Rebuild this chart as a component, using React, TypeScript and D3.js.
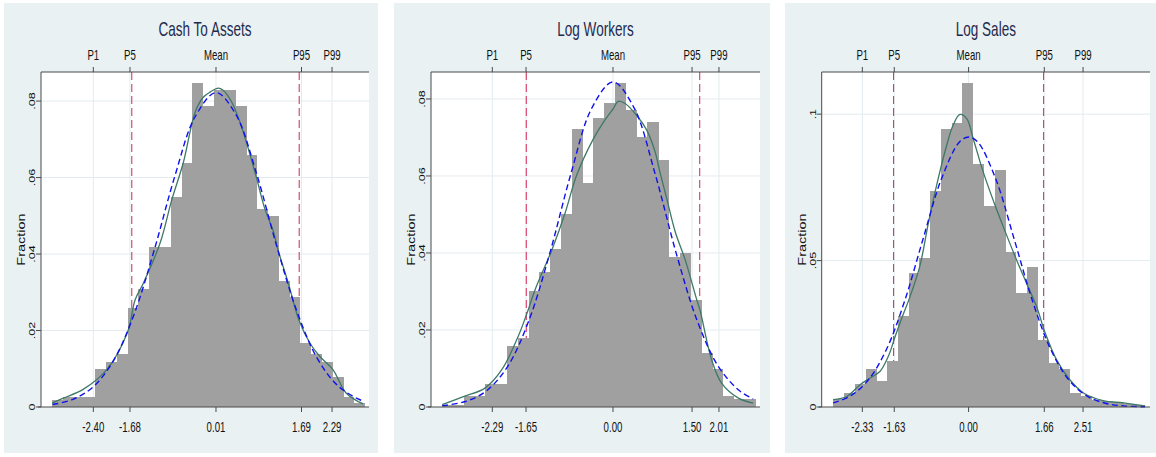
import React from 'react';
import * as d3 from 'd3';

// ---------------- data ----------------
const titles = ['Cash To Assets', 'Log Workers', 'Log Sales'];
const percentileNames = ['P1', 'P5', 'Mean', 'P95', 'P99'];

const cashPercentiles = [-2.4, -1.68, 0.01, 1.69, 2.29];
const workersPercentiles = [-2.29, -1.65, 0.0, 1.5, 2.01];
const salesPercentiles = [-2.33, -1.63, 0.0, 1.66, 2.51];

const normalCutoffs = [-1.645, 1.645];

const cashRange = [-3.428, 3.016];
const workersRange = [-3.453, 2.789];
const salesRange = [-3.221, 3.978];

const cashFractionMax = 0.0876;
const workersFractionMax = 0.087;
const salesFractionMax = 0.1144;

const fractionTicks = [0, 0.02, 0.04, 0.06, 0.08];
const fractionLabels = ['0', '.02', '.04', '.06', '.08'];
const salesFractionTicks = [0, 0.05, 0.1];
const salesFractionLabels = ['0', '.05', '.1'];

const cashBinStart = -3.206;
const cashBinWidth = 0.2116;
const workersBinStart = -3.239;
const workersBinWidth = 0.2049;
const salesBinStart = -2.967;
const salesBinWidth = 0.2357;

const cashBars = [
  0.0018, 0.0027, 0.0027, 0.0027, 0.0099, 0.0118, 0.0139, 0.0258, 0.0308, 0.0418,
  0.0418, 0.0548, 0.0639, 0.0848, 0.0787, 0.0829, 0.0829, 0.0787, 0.0659, 0.0518,
  0.0499, 0.0329, 0.0288, 0.0168, 0.0139, 0.0118, 0.0078, 0.0027, 0.001,
];
const workersBars = [
  0.0006, 0.0006, 0.0029, 0.0029, 0.0059, 0.0059, 0.0159, 0.0178, 0.03, 0.035,
  0.0411, 0.05, 0.0721, 0.0581, 0.0751, 0.079, 0.0842, 0.0771, 0.0702, 0.0741,
  0.0642, 0.0389, 0.04, 0.0278, 0.0139, 0.0098, 0.0028, 0.002, 0.002,
];
const salesBars = [
  0.0027, 0.0048, 0.0078, 0.013, 0.009, 0.0158, 0.0312, 0.0459, 0.0508, 0.0739,
  0.0949, 0.0969, 0.1108, 0.0829, 0.0688, 0.0808, 0.0529, 0.0389, 0.0478, 0.023,
  0.015, 0.013, 0.0048, 0.0036, 0.0025, 0.0022, 0.0018, 0.001, 0.0007,
];

const cashKernel: [number, number][] = [
  [-3.21, 0.001], [-2.99, 0.0023], [-2.6, 0.0046], [-2.14, 0.0097], [-1.725, 0.0197],
  [-1.58, 0.028], [-1.42, 0.0323], [-1.09, 0.0428], [-0.86, 0.0541], [-0.63, 0.064],
  [-0.4, 0.0771], [-0.24, 0.081], [-0.1, 0.0824], [0.055, 0.0834], [0.15, 0.0828],
  [0.32, 0.0797], [0.48, 0.0745], [0.645, 0.0675], [0.81, 0.0597], [0.97, 0.0518],
  [1.14, 0.0458], [1.23, 0.041], [1.43, 0.0324], [1.64, 0.0227], [1.86, 0.0166],
  [2.05, 0.0132], [2.31, 0.0097], [2.57, 0.0036], [2.9, 0.0008],
];
const cashNormal: [number, number][] = [
  [-3.2, 0.00064], [-2.8, 0.002], [-2.4, 0.0053], [-2.0, 0.0122], [-1.6, 0.0242],
  [-1.2, 0.0412], [-0.8, 0.0603], [-0.4, 0.0759], [0.01, 0.0822], [0.4, 0.0765],
  [0.8, 0.0613], [1.2, 0.0422], [1.6, 0.025], [2.0, 0.0127], [2.4, 0.0056],
  [2.8, 0.0021], [2.9, 0.0016],
];

const workersKernel: [number, number][] = [
  [-3.24, 0.0006], [-2.81, 0.0028], [-2.43, 0.0049], [-2.11, 0.0097], [-1.8, 0.0183],
  [-1.61, 0.0252], [-1.48, 0.0304], [-1.16, 0.0408], [-0.91, 0.0503], [-0.69, 0.0602],
  [-0.37, 0.0697], [-0.18, 0.074], [0.006, 0.0775], [0.1, 0.0794], [0.23, 0.0788],
  [0.45, 0.0757], [0.64, 0.0719], [0.8, 0.0662], [0.89, 0.061], [1.02, 0.0541],
  [1.18, 0.0455], [1.37, 0.0382], [1.59, 0.0278], [1.65, 0.0252], [1.87, 0.0123],
  [2.06, 0.0062], [2.38, 0.0023], [2.66, 0.001],
];
const workersNormal: [number, number][] = [
  [-3.24, 0.00036], [-2.8, 0.00142], [-2.4, 0.0042], [-2.0, 0.0105], [-1.6, 0.0223],
  [-1.2, 0.0399], [-0.8, 0.0605], [-0.4, 0.0777], [0.0, 0.0844], [0.4, 0.0777],
  [0.8, 0.0605], [1.2, 0.0399], [1.6, 0.0223], [2.0, 0.0105], [2.4, 0.0042],
  [2.66, 0.0021],
];

const salesKernel: [number, number][] = [
  [-2.97, 0.0025], [-2.67, 0.0036], [-2.38, 0.0076], [-2.16, 0.0099], [-1.94, 0.0122],
  [-1.76, 0.0173], [-1.61, 0.0241], [-1.45, 0.031], [-1.3, 0.037], [-1.07, 0.048],
  [-0.88, 0.063], [-0.7, 0.0758], [-0.48, 0.0894], [-0.34, 0.0962], [-0.19, 0.0999],
  [-0.04, 0.0985], [0.1, 0.0917], [0.32, 0.0803], [0.58, 0.0689], [0.76, 0.0616],
  [1.05, 0.0503], [1.27, 0.0423], [1.49, 0.0343], [1.68, 0.0253], [1.93, 0.0161],
  [2.22, 0.0093], [2.52, 0.0048], [2.95, 0.0022], [3.39, 0.0014], [3.87, 0.0004],
];
const salesNormal: [number, number][] = [
  [-2.97, 0.00139], [-2.6, 0.0037], [-2.2, 0.0092], [-1.8, 0.0197], [-1.4, 0.0363],
  [-1.0, 0.0573], [-0.6, 0.0777], [-0.2, 0.0905], [0.0, 0.0922], [0.2, 0.0905],
  [0.6, 0.0777], [1.0, 0.0573], [1.4, 0.0363], [1.8, 0.0197], [2.2, 0.0092],
  [2.6, 0.0037], [3.0, 0.00127], [3.4, 0.00038], [3.87, 0.00007],
];

// ---------------- layout ----------------
const frames = [
  { bg: [4, 3, 378, 453], plot: [41, 72, 369, 407] },
  { bg: [394, 3, 770, 453], plot: [431, 72, 760, 407] },
  { bg: [785, 3, 1156, 453], plot: [821.7, 72, 1150, 407] },
];

const panels = [
  {
    title: titles[0], ticks: cashPercentiles, range: cashRange, yMax: cashFractionMax,
    yTicks: fractionTicks, yLabels: fractionLabels, binStart: cashBinStart, binWidth: cashBinWidth,
    bars: cashBars, kernel: cashKernel, normal: cashNormal,
  },
  {
    title: titles[1], ticks: workersPercentiles, range: workersRange, yMax: workersFractionMax,
    yTicks: fractionTicks, yLabels: fractionLabels, binStart: workersBinStart, binWidth: workersBinWidth,
    bars: workersBars, kernel: workersKernel, normal: workersNormal,
  },
  {
    title: titles[2], ticks: salesPercentiles, range: salesRange, yMax: salesFractionMax,
    yTicks: salesFractionTicks, yLabels: salesFractionLabels, binStart: salesBinStart, binWidth: salesBinWidth,
    bars: salesBars, kernel: salesKernel, normal: salesNormal,
  },
];

const FONT = '"Liberation Sans", Arial, Helvetica, sans-serif';
const BG = '#eaf1f3';
const GRID = '#e3ebef';
const AXIS = '#4a4a4a';
const BAR = '#a0a0a0';
const RED = '#d23c64';
const BLUE = '#1010ee';
const GREEN = '#3d7868';
const SX = 0.69;

function Panel({ p, f }: { p: any; f: any }) {
  const [bx0, by0, bx1, by1] = f.bg;
  const [pl, pt, pr, pb] = f.plot;
  const x = d3.scaleLinear().domain(p.range).range([pl, pr]);
  const y = d3.scaleLinear().domain([0, p.yMax]).range([pb, pt]);
  const line = d3
    .line<[number, number]>()
    .x((d) => x(d[0]))
    .y((d) => y(d[1]))
    .curve(d3.curveCatmullRom.alpha(0.5));
  const cx = (pl + pr) / 2;
  const cy = (pt + pb) / 2;
  return (
    <g>
      <rect x={bx0} y={by0} width={bx1 - bx0} height={by1 - by0} fill={BG} />
      <rect x={pl} y={pt} width={pr - pl} height={pb - pt} fill="#ffffff" />
      {/* grid */}
      {p.yTicks.filter((v: number) => v > 0).map((v: number, i: number) => (
        <line key={'gy' + i} x1={pl} x2={pr} y1={y(v)} y2={y(v)} stroke={GRID} strokeWidth={1} />
      ))}
      {p.ticks.map((v: number, i: number) => (
        <line key={'gx' + i} x1={x(v)} x2={x(v)} y1={pt} y2={pb} stroke={GRID} strokeWidth={1} />
      ))}
      {/* reference lines */}
      {normalCutoffs.map((v, i) => (
        <line key={'r' + i} x1={x(v)} x2={x(v)} y1={pt} y2={pb} stroke={RED} strokeWidth={1.1} strokeDasharray="8,4" />
      ))}
      {/* bars */}
      {p.bars.map((v: number, i: number) => {
        const x0 = p.binStart + i * p.binWidth;
        const X0 = x(x0);
        const X1 = x(x0 + p.binWidth);
        return (
          <rect key={'b' + i} x={X0} y={y(v)} width={X1 - X0 + 0.4} height={y(0) - y(v)} fill={BAR} shapeRendering="crispEdges" />
        );
      })}
      {/* curves */}
      <path d={line(p.kernel) || ''} fill="none" stroke={GREEN} strokeWidth={1.3} />
      <path d={line(p.normal) || ''} fill="none" stroke={BLUE} strokeWidth={1.4} strokeDasharray="6,3.5" />
      {/* axes */}
      <line x1={pl} x2={pl} y1={pt} y2={pb} stroke={AXIS} strokeWidth={1} />
      <line x1={pl} x2={pr} y1={pt} y2={pt} stroke={AXIS} strokeWidth={1.1} />
      <line x1={pl - 3} x2={pr} y1={pb} y2={pb} stroke={AXIS} strokeWidth={1.1} />
      {p.ticks.map((v: number, i: number) => (
        <g key={'t' + i}>
          <line x1={x(v)} x2={x(v)} y1={pb} y2={pb + 5} stroke={AXIS} strokeWidth={1} />
          <line x1={x(v)} x2={x(v)} y1={pt} y2={pt - 5} stroke={AXIS} strokeWidth={1} />
          <text transform={`translate(${x(v)},${pb + 24.5}) scale(${SX},1)`} textAnchor="middle" fontSize={14} fontFamily={FONT} fill="#111">
            {v.toFixed(2)}
          </text>
          <text transform={`translate(${x(v)},${pt - 12}) scale(${SX},1)`} textAnchor="middle" fontSize={14} fontFamily={FONT} fill="#111">
            {percentileNames[i]}
          </text>
        </g>
      ))}
      {p.yTicks.map((v: number, i: number) => (
        <g key={'yt' + i}>
          <line x1={pl - 5} x2={pl} y1={y(v)} y2={y(v)} stroke={AXIS} strokeWidth={1} />
          <text transform={`translate(${pl - 6},${y(v)}) scale(0.75,1) rotate(-90)`} textAnchor="middle" fontSize={12.5} fontFamily={FONT} fill="#111">
            {p.yLabels[i]}
          </text>
        </g>
      ))}
      <text transform={`translate(${pl - 16},${cy}) scale(0.7,1) rotate(-90)`} textAnchor="middle" fontSize={14.5} fontFamily={FONT} fill="#111">
        Fraction
      </text>
      <text transform={`translate(${cx},${36}) scale(0.66,1)`} textAnchor="middle" fontSize={20.5} fontFamily={FONT} fill="#1e2b4f">
        {p.title}
      </text>
    </g>
  );
}

export default function App() {
  return (
    <svg width={1156} height={457} viewBox="0 0 1156 457" style={{ position: 'absolute', left: 0, top: 0, background: '#ffffff' }}>
      <rect x={0} y={0} width={1156} height={457} fill="#ffffff" />
      {panels.map((p, i) => (
        <Panel key={i} p={p} f={frames[i]} />
      ))}
    </svg>
  );
}
